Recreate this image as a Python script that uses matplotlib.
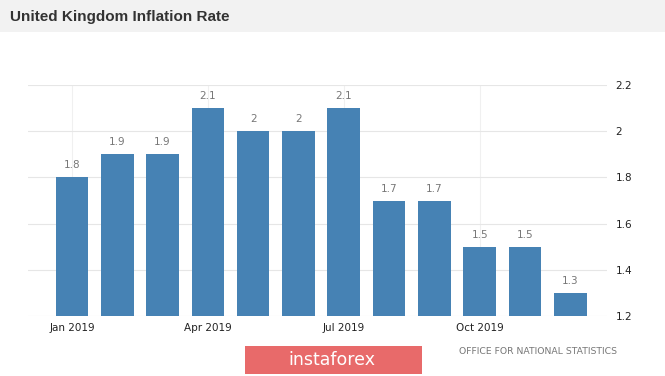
import matplotlib
matplotlib.use('Agg')
import matplotlib.pyplot as plt
from matplotlib.patches import Rectangle

# dados
meses = ['Jan 2019', 'Feb 2019', 'Mar 2019', 'Apr 2019', 'May 2019', 'Jun 2019',
         'Jul 2019', 'Aug 2019', 'Sep 2019', 'Oct 2019', 'Nov 2019', 'Dec 2019']
inflacao = [1.8, 1.9, 1.9, 2.1, 2.0, 2.0, 2.1, 1.7, 1.7, 1.5, 1.5, 1.3]
y_ticks = [1.2, 1.4, 1.6, 1.8, 2.0, 2.2]
x_ticks = [0, 3, 6, 9]

W, H = 665, 376
fig = plt.figure(figsize=(W / 100, H / 100), dpi=100)
fig.patch.set_facecolor('white')

# faixa do titulo
fig.patches.append(Rectangle((0, 1 - 32 / H), 1, 32 / H, transform=fig.transFigure,
                             facecolor='#f2f2f2', edgecolor='none', zorder=0))
fig.text(10 / W, 1 - 17 / H, 'United Kingdom Inflation Rate', fontsize=11,
         fontweight='bold', color='#333333', family='Liberation Sans', va='center')

ax = fig.add_axes([28 / W, (H - 316) / H, (607 - 28) / W, (316 - 85) / H])
x = list(range(len(inflacao)))
ax.bar(x, inflacao, width=0.72, color='#4682b4', zorder=3)
for xi, v in zip(x, inflacao):
    ax.text(xi, v + 0.03, '%g' % v, ha='center', va='bottom', fontsize=7.5, color='#777777', zorder=4)

ax.set_xlim(-0.97, 11.81)
ax.set_ylim(1.2, 2.2)
ax.set_yticks(y_ticks)
ax.set_yticklabels(['%g' % t for t in y_ticks])
ax.set_xticks(x_ticks)
ax.set_xticklabels([meses[i] for i in x_ticks])
ax.yaxis.tick_right()
ax.tick_params(axis='y', length=0, pad=6, labelsize=7.5, labelcolor='#222222')
ax.tick_params(axis='x', length=0, pad=5, labelsize=7.5, labelcolor='#222222')
ax.grid(axis='y', color='#e6e6e6', linewidth=0.8, zorder=0)
ax.grid(axis='x', color='#f0f0f0', linewidth=0.8, zorder=0)
for s in ax.spines.values():
    s.set_visible(False)

# marca d'agua e fonte
fig.patches.append(Rectangle((245 / W, (H - 374) / H), 177 / W, 28 / H, transform=fig.transFigure,
                             facecolor='#e86a6a', edgecolor='none', zorder=5))
fig.text(332 / W, (H - 360) / H, 'instaforex', fontsize=12.5, color='white',
         ha='center', va='center', zorder=6)
fig.text(617 / W, (H - 352) / H, 'OFFICE FOR NATIONAL STATISTICS', fontsize=6.7,
         color='#777777', ha='right', va='center')

fig.savefig('out.png', dpi=100)
